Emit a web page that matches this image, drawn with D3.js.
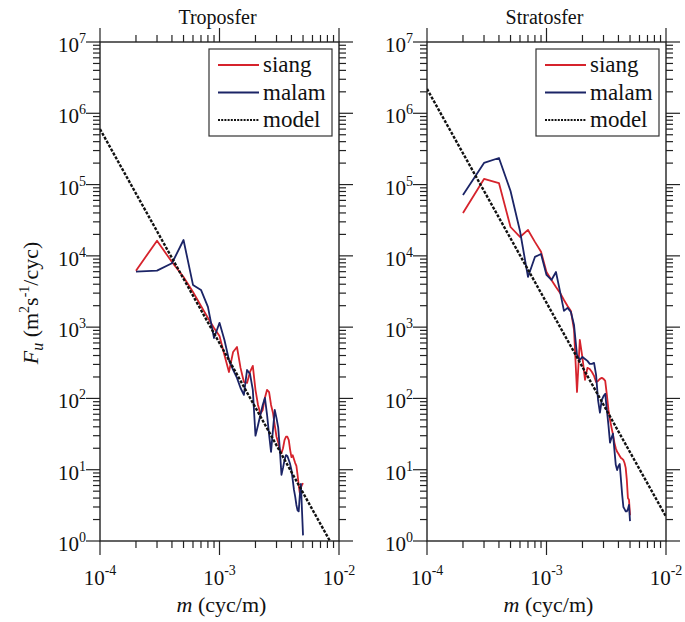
<!DOCTYPE html>
<html><head><meta charset="utf-8">
<script src="https://cdn.jsdelivr.net/npm/d3@7"></script>
<style>
body{margin:0;background:#fff}
svg{display:block}
text{font-family:"Liberation Serif","Times New Roman",serif;fill:#111}
</style>
</head><body>
<svg id="chart" width="685" height="622" font-family="'Liberation Serif', serif"></svg>
<script>
// ---------- data ----------
const wavenumber = [0.0002,0.0003,0.0004,0.0005,0.0006,0.0007,0.0008,0.0009,0.0010,
  0.0011,0.0012,0.0013,0.0014,0.0015,0.0016,0.0017,0.0018,0.0019,0.0020,
  0.0021,0.0022,0.0023,0.0024,0.0025,0.0026,0.0027,0.0028,0.0029,0.0030,
  0.0031,0.0032,0.0033,0.0034,0.0035,0.0036,0.0037,0.0038,0.0039,0.0040,
  0.0041,0.0042,0.0043,0.0044,0.0045,0.0046,0.0047,0.0048,0.0049,0.0050];

const panelTitles = ["Troposfer", "Stratosfer"];
const seriesNames = ["siang", "malam", "model"];

const tropoSiang = [6200,16300,8200,5060,3120,1980,1350,975,753,407,235,449,527,268,170,165,235,286,
  132,81,61,69,102,132,123,81,63,42,29,24,19,17,20,26,29,29,26,19,15,16,14,12.4,11.3,8.5,6.1,4.7,5.6,6.1,6.5];
const tropoMalam = [6000,6200,7870,16700,3910,3330,1920,705,1150,661,347,251,194,140,112,251,221,132,
  30,42,59,81,102,59,31,17.8,36,69,53,39,19,8.5,10.6,13.7,16,15.6,13.7,12,9.9,7.2,5.2,4.2,3.2,2.7,2.6,4.4,6.3,2.7,1.2];
const stratoSiang = [40000,120000,105000,25400,18400,23100,15700,11400,5940,4590,3660,3020,2400,1980,1690,914,
  123,661,370,182,268,259,235,207,170,176,188,194,188,176,112,69,50,39,31,24,20,17.8,16.7,15.6,14.6,14.2,13.7,12.4,10.6,7.2,4.0,3.8,2.3];
const stratoMalam = [71400,201000,236000,81300,22300,5060,9660,10600,5400,4590,5940,3120,1690,1860,1630,1070,
  407,347,382,358,336,305,305,315,214,95,63,95,108,116,69,42,24,28,32,19,11.7,9.9,11.3,12,7.2,4.4,3.0,2.8,2.6,2.6,2.8,3.2,1.9];

// model end points (m, F)
const tropoModelM = [1e-4, 8.4e-3];
const tropoModelF = [6.0e5, 1.0];
const stratoModelM = [1e-4, 1e-2];
const stratoModelF = [2.2e6, 2.2];

const xTickExps = [-4, -3, -2];
const yTickExps = [0, 1, 2, 3, 4, 5, 6, 7];

// ---------- layout ----------
const svg = d3.select("#chart");
const Y0 = 42, Y1 = 541;
const colors = {siang: "#d6232c", malam: "#1b2466", model: "#111"};
const panels = [
  {x0: 100, x1: 339, title: panelTitles[0], siang: tropoSiang, malam: tropoMalam, mM: tropoModelM, mF: tropoModelF},
  {x0: 427, x1: 666, title: panelTitles[1], siang: stratoSiang, malam: stratoMalam, mM: stratoModelM, mF: stratoModelF}
];

const MAJ = 14, MIN = 7;

panels.forEach((p, i) => {
  const x = d3.scaleLog().domain([1e-4, 1e-2]).range([p.x0, p.x1]);
  const y = d3.scaleLog().domain([1, 1e7]).range([Y1, Y0]);
  const g = svg.append("g");

  const cid = "clip" + i;
  svg.append("clipPath").attr("id", cid).append("rect")
    .attr("x", p.x0).attr("y", Y0).attr("width", p.x1 - p.x0).attr("height", Y1 - Y0);

  g.append("rect").attr("x", p.x0).attr("y", Y0).attr("width", p.x1 - p.x0).attr("height", Y1 - Y0)
    .attr("fill", "none").attr("stroke", "#222").attr("stroke-width", 1.4);

  const isMaj = v => Math.abs(Math.log10(v) - Math.round(Math.log10(v))) < 1e-6;
  const tk = g.append("g").attr("stroke", "#222").attr("stroke-width", 1.2);
  x.ticks().forEach(v => {
    const L = isMaj(v) ? MAJ : MIN;
    tk.append("line").attr("x1", x(v)).attr("x2", x(v)).attr("y1", Y1).attr("y2", Y1 + L);
    tk.append("line").attr("x1", x(v)).attr("x2", x(v)).attr("y1", Y0).attr("y2", Y0 - L);
  });
  y.ticks().forEach(v => {
    const L = isMaj(v) ? MAJ : MIN;
    tk.append("line").attr("y1", y(v)).attr("y2", y(v)).attr("x1", p.x0).attr("x2", p.x0 - L);
    tk.append("line").attr("y1", y(v)).attr("y2", y(v)).attr("x1", p.x1).attr("x2", p.x1 + L);
  });

  xTickExps.forEach(e => {
    const t = g.append("text").attr("x", x(Math.pow(10, e))).attr("y", 585)
      .attr("text-anchor", "middle").attr("font-size", 21);
    t.append("tspan").text("10");
    t.append("tspan").attr("dy", -10).attr("font-size", 14).text(String(e));
  });
  yTickExps.forEach(e => {
    const t = g.append("text").attr("x", p.x0 - 14).attr("y", y(Math.pow(10, e)) + 10)
      .attr("text-anchor", "end").attr("font-size", 21);
    t.append("tspan").text("10");
    t.append("tspan").attr("dy", -9).attr("font-size", 14).text(String(e));
  });

  g.append("text").attr("x", (p.x0 + p.x1) / 2 - 2).attr("y", 24).attr("text-anchor", "middle")
    .attr("font-size", 20).text(p.title);

  const xtT = g.append("text").attr("x", (p.x0 + p.x1) / 2 + 2).attr("y", 612)
    .attr("text-anchor", "middle").attr("font-size", 22);
  xtT.append("tspan").attr("font-style", "italic").text("m");
  xtT.append("tspan").text(" (cyc/m)");

  const line = d3.line().x(d => x(d[0])).y(d => y(d[1]));
  const dg = g.append("g").attr("clip-path", `url(#${cid})`).attr("fill", "none");
  dg.append("path").datum(wavenumber.map((m, j) => [m, p.siang[j]]))
    .attr("d", line).attr("stroke", colors.siang).attr("stroke-width", 1.8).attr("stroke-linejoin", "round");
  dg.append("path").datum(wavenumber.map((m, j) => [m, p.malam[j]]))
    .attr("d", line).attr("stroke", colors.malam).attr("stroke-width", 1.8).attr("stroke-linejoin", "round");
  dg.append("path").datum(p.mM.map((m, j) => [m, p.mF[j]]))
    .attr("d", line).attr("stroke", colors.model).attr("stroke-width", 2.4).attr("stroke-dasharray", "3,1.5");

  const lx = p.x0 + 109, ly = 49;
  const lg = g.append("g");
  lg.append("rect").attr("x", lx).attr("y", ly).attr("width", 123).attr("height", 87)
    .attr("fill", "#fff").attr("stroke", "#333").attr("stroke-width", 1.2);
  seriesNames.forEach((s, k) => {
    const cy = ly + 16 + k * 27.5;
    lg.append("line").attr("x1", lx + 9).attr("x2", lx + 50).attr("y1", cy).attr("y2", cy)
      .attr("stroke", colors[s]).attr("stroke-width", s === "model" ? 2 : 1.8)
      .attr("stroke-dasharray", s === "model" ? "2,1.2" : null);
    lg.append("text").attr("x", lx + 54).attr("y", cy + 7).attr("font-size", 23).text(s);
  });
});

const yt = svg.append("text").attr("transform", "translate(38,303) rotate(-90)")
  .attr("text-anchor", "middle").attr("font-size", 22);
yt.append("tspan").attr("font-style", "italic").text("F");
yt.append("tspan").attr("font-style", "italic").attr("font-size", 16).attr("dy", 5).text("u");
yt.append("tspan").attr("dy", -5).text(" (m");
yt.append("tspan").attr("font-size", 14).attr("dy", -9).text("2");
yt.append("tspan").attr("dy", 9).text("s");
yt.append("tspan").attr("font-size", 14).attr("dy", -9).text("-1");
yt.append("tspan").attr("dy", 9).text("/cyc)");
</script>
</body></html>
